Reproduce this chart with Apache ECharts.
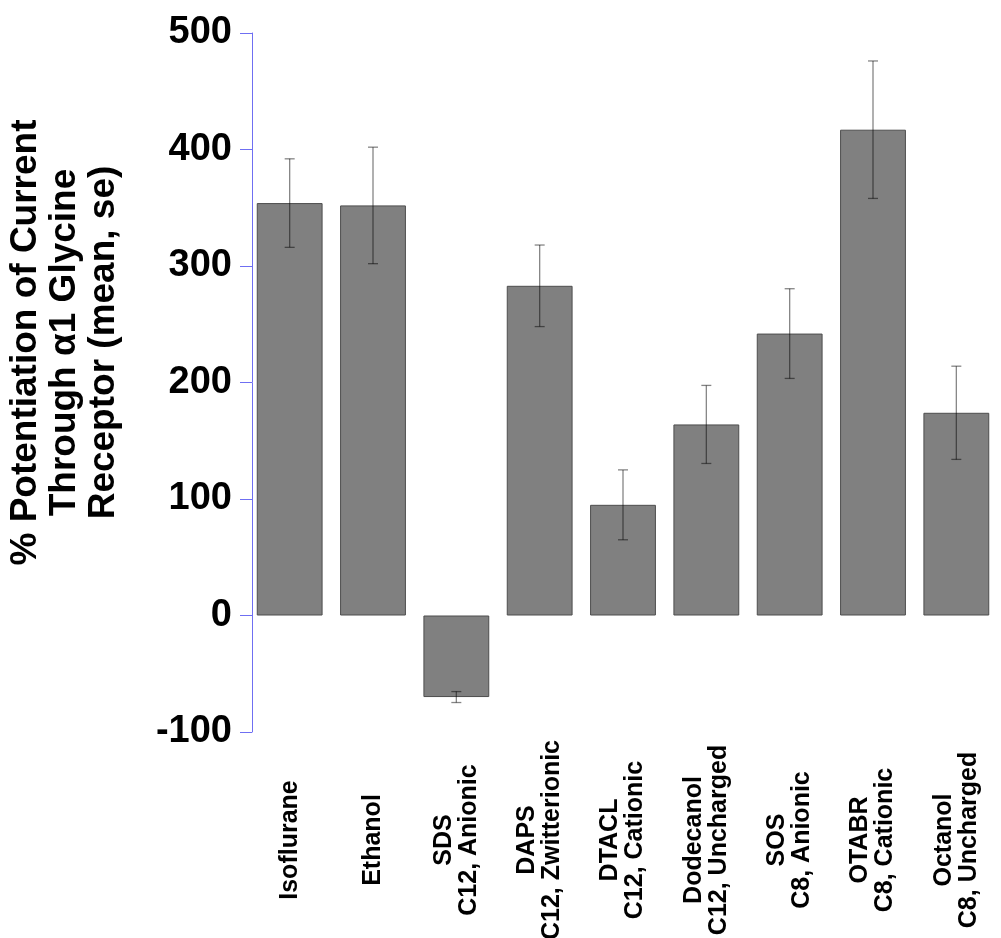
<!DOCTYPE html>
<html>
<head>
<meta charset="utf-8">
<script src="https://cdn.jsdelivr.net/npm/echarts@6/dist/echarts.min.js"></script>
<style>
html,body{margin:0;padding:0;background:#fff;}
#chart{width:1001px;height:938px;}
</style>
</head>
<body>
<div id="chart"></div>
<script>
const categories = [
  "Isoflurane",
  "Ethanol",
  "SDS\nC12, Anionic",
  "DAPS\nC12, Zwitterionic",
  "DTACL\nC12, Cationic",
  "Dodecanol\nC12, Uncharged",
  "SOS\nC8, Anionic",
  "OTABR\nC8, Cationic",
  "Octanol\nC8, Uncharged"
];
const meanValues = [354, 352, -70, 283, 95, 164, 242, 417, 174];
const seValues = [38, 50, 4.7, 35, 30, 33.5, 38.5, 59, 40];
const yTicks = { min: -100, max: 500, interval: 100 };
const yTitle = "% Potentiation of Current\nThrough \u03b11 Glycine\nReceptor (mean, se)";

const errData = meanValues.map((v, i) => [i, v - seValues[i], v + seValues[i]]);

const FONT = "'Liberation Sans', Arial, Helvetica, sans-serif";
const chart = echarts.init(document.getElementById('chart'));
chart.setOption({
  animation: false,
  backgroundColor: '#ffffff',
  grid: { left: 248, right: 3, top: 33, bottom: 206, containLabel: false, outerBoundsMode: 'none' },
  xAxis: {
    type: 'category',
    data: categories,
    axisLine: { show: false, onZero: false },
    axisTick: { show: false },
    splitLine: { show: false },
    axisLabel: {
      interval: 0,
      rotate: 90,
      align: 'center',
      verticalAlign: 'middle',
      margin: 108,
      fontSize: 25,
      lineHeight: 25,
      fontWeight: 'bold',
      fontFamily: FONT,
      color: '#000'
    }
  },
  yAxis: {
    type: 'value',
    min: yTicks.min,
    max: yTicks.max,
    interval: yTicks.interval,
    offset: -4,
    name: yTitle,
    nameLocation: 'middle',
    nameGap: 129,
    nameTextStyle: {
      fontSize: 37,
      lineHeight: 39,
      fontWeight: 'bold',
      fontFamily: FONT,
      color: '#000',
      padding: [0, 0, 0, 80]
    },
    axisLine: { show: true, lineStyle: { color: '#6f6ff2', width: 1 } },
    axisTick: { show: true, length: 12, lineStyle: { color: '#6f6ff2', width: 1 } },
    splitLine: { show: false },
    axisLabel: {
      margin: 20,
      fontSize: 38,
      fontWeight: 'bold',
      fontFamily: FONT,
      color: '#000',
      padding: [0, 0, 12, 0]
    }
  },
  series: [
    {
      type: 'bar',
      data: meanValues,
      barCategoryGap: '21%',
      itemStyle: { color: '#808080', borderColor: '#4d4d4d', borderWidth: 1 }
    },
    {
      type: 'custom',
      data: errData,
      z: 10,
      encode: { x: 0, y: [1, 2] },
      renderItem: function (params, api) {
        const idx = api.value(0);
        const lo = api.coord([idx, api.value(1)]);
        const hi = api.coord([idx, api.value(2)]);
        const hw = 5;
        const style = { stroke: 'rgba(0,0,0,0.48)', lineWidth: 1.3 };
        return {
          type: 'group',
          children: [
            { type: 'line', shape: { x1: hi[0], y1: hi[1], x2: lo[0], y2: lo[1] }, style: style },
            { type: 'line', shape: { x1: hi[0] - hw, y1: hi[1], x2: hi[0] + hw, y2: hi[1] }, style: style },
            { type: 'line', shape: { x1: lo[0] - hw, y1: lo[1], x2: lo[0] + hw, y2: lo[1] }, style: style }
          ]
        };
      }
    }
  ]
});
</script>
</body>
</html>
